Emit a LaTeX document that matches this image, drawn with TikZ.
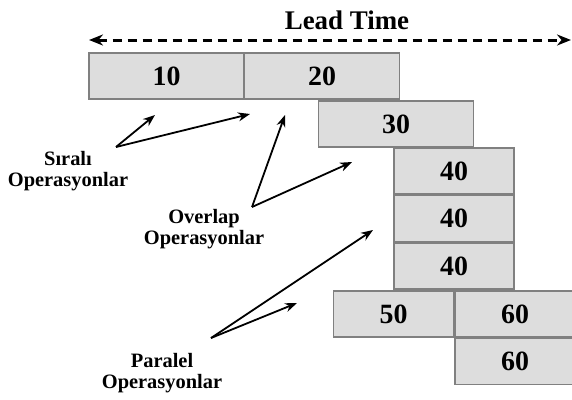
\documentclass[tikz,border=0pt]{standalone}
\usepackage{fontspec}
\setmainfont{Liberation Serif}
\usetikzlibrary{arrows.meta}

\definecolor{opfill}{RGB}{221,221,221}
\definecolor{opedge}{RGB}{128,128,128}

\begin{document}
\begin{tikzpicture}[x=1bp,y=-1bp]
\tikzstyle{op}=[draw=opedge,fill=opfill,line width=1.5bp,minimum height=46bp,inner sep=0pt,font=\bfseries\fontsize{28}{32}\selectfont]
\tikzstyle{longop}=[op,minimum width=155bp]
\tikzstyle{shortop}=[op,minimum width=120bp]
\tikzstyle{lbl}=[align=center,font=\bfseries\fontsize{20.5}{21}\selectfont]
\tikzstyle{pointer}=[-{Stealth[length=12bp,width=9bp]},line width=1.8bp]

\useasboundingbox (0,0) rectangle (572,399);

% lead time
\node[font=\bfseries\fontsize{27}{30}\selectfont] (lead) at (347,20) {Lead Time};
\coordinate (leadL) at (89,40);
\coordinate (leadR) at (571,40);
\draw[{Stealth[length=14bp,width=11bp]}-{Stealth[length=14bp,width=11bp]},line width=3bp,dash pattern=on 9bp off 6bp] (leadL) -- (leadR);

% operations
\node[longop] (op10) at (166.5,76) {10};
\node[longop] (op20) at (322,76) {20};
\node[longop] (op30) at (396,124) {30};
\node[shortop] (op40a) at (454,171) {40};
\node[shortop] (op40b) at (454,218.5) {40};
\node[shortop] (op40c) at (454,266) {40};
\node[shortop] (op50) at (393.5,314) {50};
\node[shortop] (op60a) at (515,314) {60};
\node[shortop] (op60b) at (515,361.5) {60};

% labels
\node[lbl] (sirali) at (68,171) {Sıralı\\Operasyonlar};
\node[lbl] (overlap) at (204,229) {Overlap\\Operasyonlar};
\node[lbl] (paralel) at (162,373) {Paralel\\Operasyonlar};

\coordinate (sApex) at (116,147);
\coordinate (sTipA) at (155,115);
\coordinate (sTipB) at (250,114);
\coordinate (oApex) at (252,207);
\coordinate (oTipA) at (285,115);
\coordinate (oTipB) at (352,162);
\coordinate (pApex) at (211,338);
\coordinate (pTipA) at (297,303);
\coordinate (pTipB) at (373,230);

\draw[pointer] (sApex) -- (sTipA);
\draw[pointer] (sApex) -- (sTipB);
\draw[pointer] (oApex) -- (oTipA);
\draw[pointer] (oApex) -- (oTipB);
\draw[pointer] (pApex) -- (pTipA);
\draw[pointer] (pApex) -- (pTipB);
\end{tikzpicture}
\end{document}
